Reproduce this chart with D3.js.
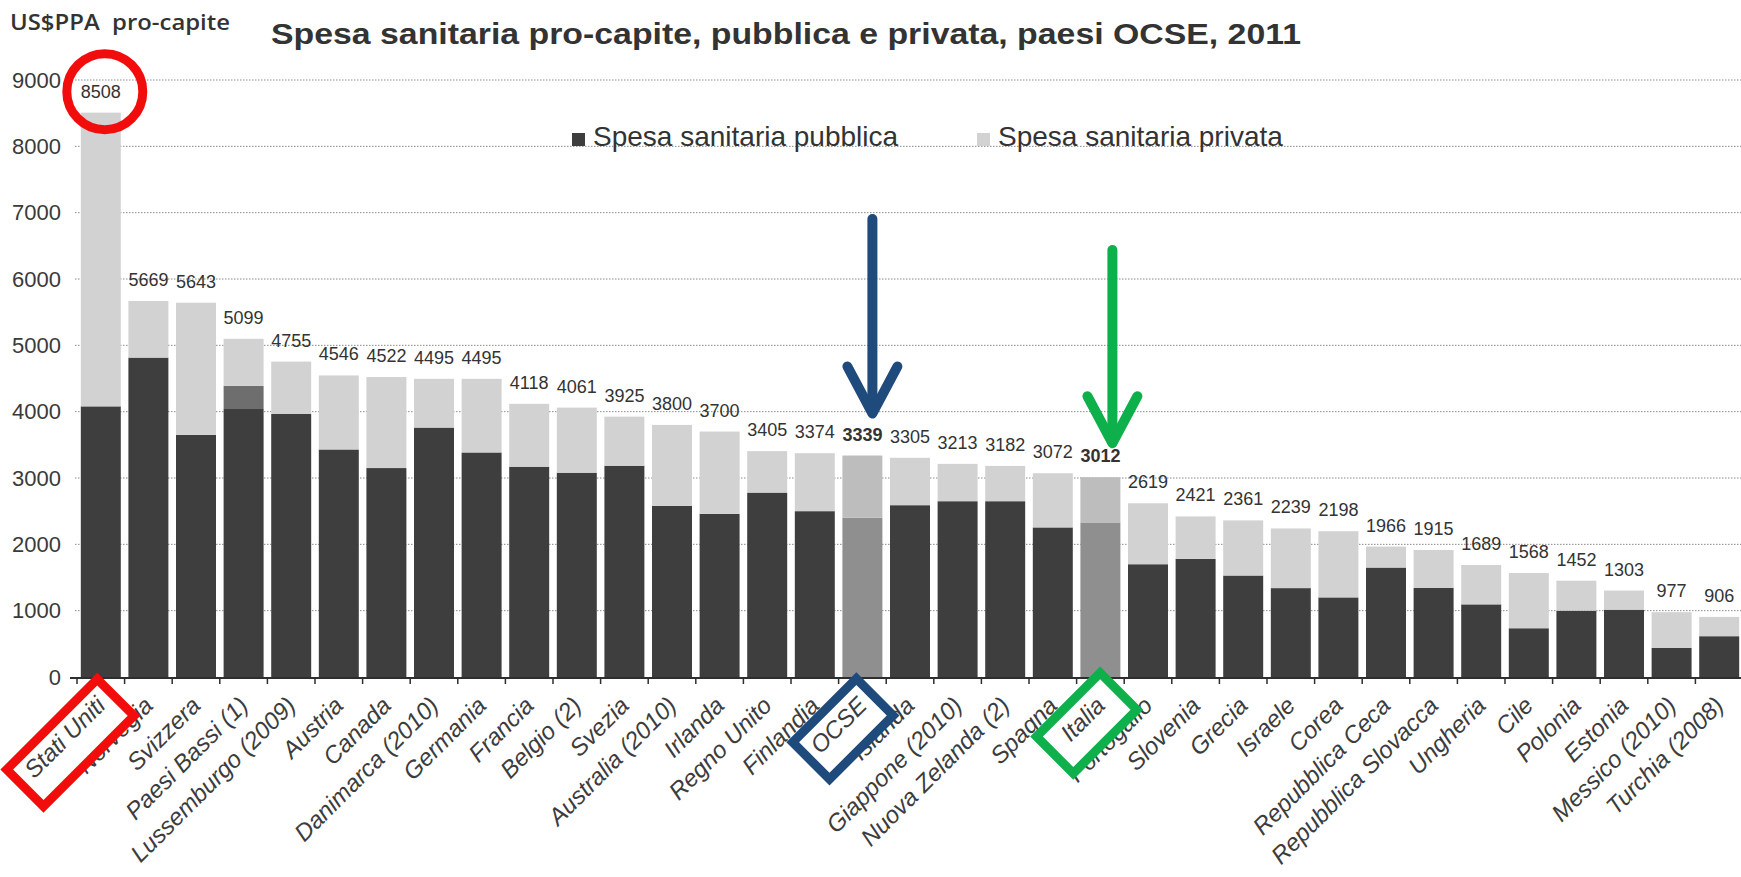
<!DOCTYPE html>
<html>
<head>
<meta charset="utf-8">
<script src="https://cdn.jsdelivr.net/npm/d3@7/dist/d3.min.js"></script>
<style>
  html, body { margin: 0; padding: 0; background: #ffffff; }
  svg { display: block; }
  text { font-family: "Liberation Sans", Arial, sans-serif; }
</style>
</head>
<body>
<svg id="chart" width="1741" height="877"></svg>
<script>
// Paesi in ordine di spesa totale pro-capite (US$ PPA, 2011)
const paesi = [
  "Stati Uniti", "Norvegia", "Svizzera", "Paesi Bassi (1)", "Lussemburgo (2009)",
  "Austria", "Canada", "Danimarca (2010)", "Germania", "Francia", "Belgio (2)",
  "Svezia", "Australia (2010)", "Irlanda", "Regno Unito", "Finlandia", "OCSE",
  "Islanda", "Giappone (2010)", "Nuova Zelanda (2)", "Spagna", "Italia",
  "Portogallo", "Slovenia", "Grecia", "Israele", "Corea", "Repubblica Ceca",
  "Repubblica Slovacca", "Ungheria", "Cile", "Polonia", "Estonia",
  "Messico (2010)", "Turchia (2008)"
];

// Spesa sanitaria totale (etichette sopra le barre)
const spesaTotale = [
  8508, 5669, 5643, 5099, 4755, 4546, 4522, 4495, 4495, 4118, 4061, 3925, 3800,
  3700, 3405, 3374, 3339, 3305, 3213, 3182, 3072, 3012, 2619, 2421, 2361, 2239,
  2198, 1966, 1915, 1689, 1568, 1452, 1303, 977, 906
];

// Spesa sanitaria pubblica
const spesaPubblica = [
  4080, 4815, 3650, 4040, 3965, 3430, 3150, 3760, 3385, 3170, 3080, 3185, 2580,
  2460, 2780, 2500, 2400, 2590, 2650, 2650, 2255, 2330, 1700, 1780, 1530, 1340,
  1200, 1650, 1345, 1095, 735, 1000, 1015, 440, 615
];

// Quota non ripartita tra pubblico e privato (solo Paesi Bassi)
const quotaNonRipartita = [
  0, 0, 0, 350, 0, 0, 0, 0, 0, 0, 0, 0, 0, 0, 0, 0, 0, 0, 0, 0, 0, 0, 0, 0, 0,
  0, 0, 0, 0, 0, 0, 0, 0, 0, 0
];

const valoriAsseY = [0, 1000, 2000, 3000, 4000, 5000, 6000, 7000, 8000, 9000];
const voci = ["Spesa sanitaria pubblica", "Spesa sanitaria privata"];
const evidenziati = ["OCSE", "Italia"];

const titolo = "Spesa sanitaria pro-capite, pubblica e privata, paesi OCSE, 2011";
const etichettaAsseY = "US$PPA  pro-capite";

// Tabella per lo stack
const tabella = paesi.map((p, i) => ({
  paese: p,
  pubblica: spesaPubblica[i],
  nonRipartita: quotaNonRipartita[i],
  privata: spesaTotale[i] - spesaPubblica[i] - quotaNonRipartita[i],
  totale: spesaTotale[i]
}));

const svg = d3.select("#chart");
const W = 1741, H = 877;
const y0 = 677, yTop = 80;

const x = d3.scaleBand()
  .domain(paesi)
  .range([77, 1743])
  .paddingInner(0.16)
  .paddingOuter(0.08);

const y = d3.scaleLinear()
  .domain([0, 9000])
  .range([y0, yTop]);

const colori = {
  pubblica: "#3e3e3e",
  nonRipartita: "#6e6e6e",
  privata: "#d2d2d2"
};
const coloriEvidenziati = {
  pubblica: "#8f8f8f",
  nonRipartita: "#8f8f8f",
  privata: "#bdbdbd"
};

// Griglia orizzontale punteggiata
svg.append("g")
  .selectAll("line")
  .data(valoriAsseY.filter(v => v > 0))
  .join("line")
  .attr("x1", 75)
  .attr("x2", W)
  .attr("y1", d => y(d))
  .attr("y2", d => y(d))
  .attr("stroke", "#8a8a8a")
  .attr("stroke-width", 1)
  .attr("stroke-dasharray", "1.5,1.5");

// Asse Y: solo etichette
const asseY = svg.append("g")
  .attr("transform", "translate(73,0)")
  .call(d3.axisLeft(y).tickValues(valoriAsseY).tickFormat(d3.format("d"))
    .tickSize(0).tickPadding(12));
asseY.select(".domain").remove();
asseY.selectAll("text")
  .attr("font-size", 22)
  .attr("fill", "#3a3a3a")
  .style("font-family", "'Liberation Sans', Arial, sans-serif");

// Barre impilate
const chiavi = ["pubblica", "nonRipartita", "privata"];
const serie = d3.stack().keys(chiavi)(tabella);

svg.append("g")
  .selectAll("g")
  .data(serie)
  .join("g")
  .each(function (s) {
    d3.select(this)
      .selectAll("rect")
      .data(s.filter(d => d[1] - d[0] > 0))
      .join("rect")
      .attr("x", d => x(d.data.paese))
      .attr("width", x.bandwidth())
      .attr("y", d => y(d[1]))
      .attr("height", d => y(d[0]) - y(d[1]))
      .attr("fill", d => evidenziati.includes(d.data.paese)
        ? coloriEvidenziati[s.key] : colori[s.key]);
  });

// Asse X con tacche tra le categorie
const passo = x.step();
svg.append("line")
  .attr("x1", 70).attr("x2", W)
  .attr("y1", y0 + 1).attr("y2", y0 + 1)
  .attr("stroke", "#2e2e2e").attr("stroke-width", 2);

svg.append("g")
  .selectAll("line")
  .data(paesi)
  .join("line")
  .attr("x1", d => x(d) - passo * x.paddingInner() / 2)
  .attr("x2", d => x(d) - passo * x.paddingInner() / 2)
  .attr("y1", y0 + 1)
  .attr("y2", y0 + 7)
  .attr("stroke", "#2e2e2e")
  .attr("stroke-width", 1.5);

// Valori totali sopra le barre
svg.append("g")
  .selectAll("text")
  .data(tabella)
  .join("text")
  .attr("x", d => x(d.paese) + x.bandwidth() / 2)
  .attr("y", d => y(d.totale) - 15)
  .attr("text-anchor", "middle")
  .attr("font-size", 18)
  .attr("font-weight", d => evidenziati.includes(d.paese) ? "bold" : "normal")
  .attr("fill", "#333")
  .text(d => d.totale);

// Etichette delle categorie, ruotate
const angolo = -45;
const gruppiEtichette = svg.append("g")
  .selectAll("g")
  .data(paesi)
  .join("g")
  .attr("transform", d => `translate(${x(d) + x.bandwidth() / 2 + 6},${y0 + 30}) rotate(${angolo})`);

gruppiEtichette.append("text")
  .attr("text-anchor", "end")
  .attr("font-size", 24)
  .attr("font-style", "italic")
  .attr("fill", "#3c3c3c")
  .text(d => d);

// Riquadri colorati attorno ad alcune etichette (coprono le etichette vicine)
const riquadri = [
  { paese: "Stati Uniti", colore: "#f20d0d", larghezza: 128, spostamento: 8 },
  { paese: "OCSE", colore: "#1f4a7c", larghezza: 90, spostamento: 6 },
  { paese: "Italia", colore: "#0db04b", larghezza: 90, spostamento: 6 }
];
gruppiEtichette.each(function (d) {
  const r = riquadri.find(q => q.paese === d);
  if (!r) return;
  const g = d3.select(this);
  const b = g.select("text").node().getBBox();
  const cx = b.x + b.width / 2, cy = b.y + b.height / 2 + r.spostamento;
  g.insert("rect", "text")
    .attr("x", cx - r.larghezza / 2)
    .attr("y", cy - 26)
    .attr("width", r.larghezza)
    .attr("height", 52)
    .attr("fill", "#ffffff")
    .attr("stroke", r.colore)
    .attr("stroke-width", 9);
  g.raise();
});

// Cerchio rosso attorno al valore degli Stati Uniti
const us = tabella[0];
svg.append("circle")
  .attr("cx", x(us.paese) + x.bandwidth() / 2 + 4)
  .attr("cy", y(us.totale) - 21)
  .attr("r", 38)
  .attr("fill", "none")
  .attr("stroke", "#f20d0d")
  .attr("stroke-width", 9);

// Frecce verso OCSE e Italia
const frecce = [
  { paese: "OCSE", colore: "#1f4a7c", scarto: 10, alto: 219, distanza: 42 },
  { paese: "Italia", colore: "#0db04b", scarto: 12, alto: 250, distanza: 34 }
];
frecce.forEach(f => {
  const i = paesi.indexOf(f.paese);
  const fx = x(f.paese) + x.bandwidth() / 2 + f.scarto;
  const punta = y(spesaTotale[i]) - f.distanza;
  const g = svg.append("g")
    .attr("fill", "none")
    .attr("stroke", f.colore)
    .attr("stroke-width", 10)
    .attr("stroke-linecap", "round")
    .attr("stroke-linejoin", "round");
  g.append("line")
    .attr("x1", fx).attr("x2", fx)
    .attr("y1", f.alto).attr("y2", punta - 4);
  g.append("path")
    .attr("d", `M${fx - 25},${punta - 47} L${fx},${punta} L${fx + 25},${punta - 47}`);
});

// Legenda
const legenda = svg.append("g");
const posLegenda = [572, 977];
const coloriLegenda = [colori.pubblica, colori.privata];
voci.forEach((v, i) => {
  legenda.append("rect")
    .attr("x", posLegenda[i]).attr("y", 133)
    .attr("width", 13).attr("height", 13)
    .attr("fill", coloriLegenda[i]);
  legenda.append("text")
    .attr("x", posLegenda[i] + 21).attr("y", 146)
    .attr("font-size", 28)
    .attr("fill", "#333")
    .text(v);
});

// Titolo ed etichetta dell'asse
svg.append("text")
  .attr("x", 271).attr("y", 44)
  .attr("font-size", 29)
  .attr("font-weight", "bold")
  .attr("fill", "#333")
  .attr("textLength", 1030)
  .attr("lengthAdjust", "spacingAndGlyphs")
  .text(titolo);

svg.append("text")
  .attr("x", 10).attr("y", 30)
  .attr("font-size", 22)
  .attr("font-weight", 600)
  .attr("fill", "#333")
  .attr("textLength", 220)
  .attr("lengthAdjust", "spacingAndGlyphs")
  .style("font-family", "'Open Sans', sans-serif")
  .style("white-space", "pre")
  .text(etichettaAsseY);
</script>
</body>
</html>
